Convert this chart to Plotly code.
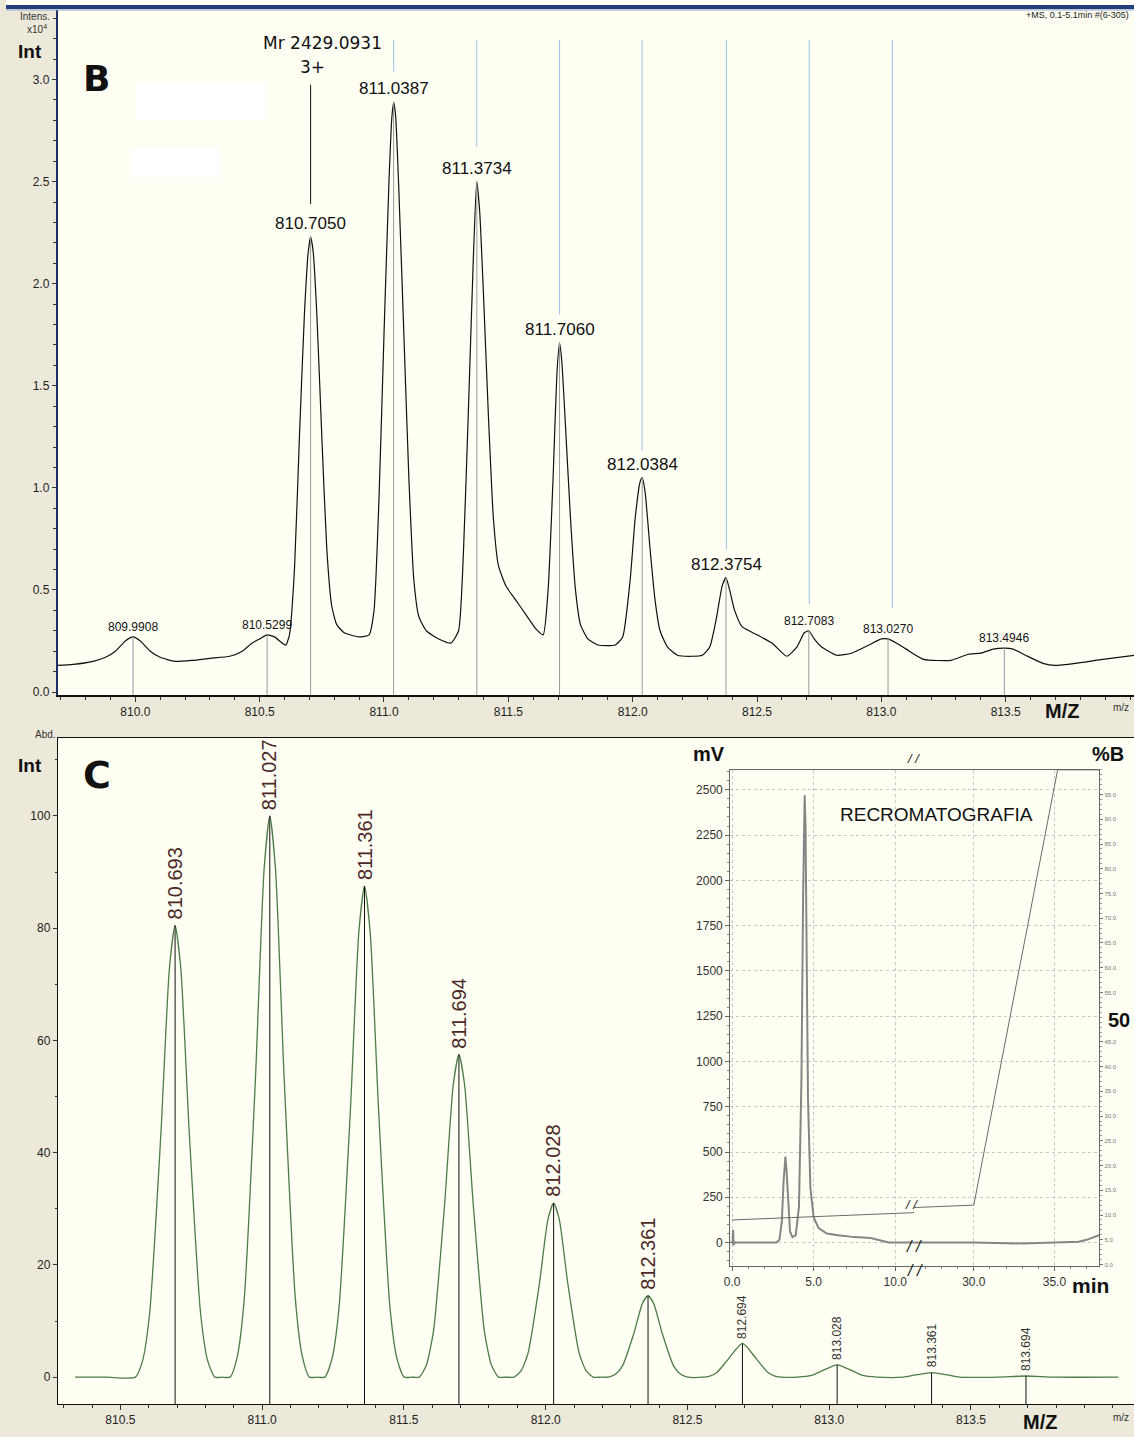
import plotly.graph_objects as go

W, H = 1134, 1437


def px(x):
    return x / W


def py(y):
    return 1 - y / H


# ---------------- Panel B data (ESI-MS spectrum, x10^4) ----------------
B_MZ = [809.68, 809.75, 809.83, 809.88, 809.92, 809.96, 809.99, 810.02, 810.06, 810.10,
        810.16, 810.23, 810.30, 810.38, 810.43, 810.47, 810.50, 810.53, 810.56, 810.59,
        810.605, 810.62, 810.64, 810.66, 810.68, 810.695, 810.705, 810.715, 810.73, 810.75,
        810.77, 810.79, 810.81, 810.84, 810.90, 810.94, 810.96, 810.98, 811.00, 811.02,
        811.032, 811.039, 811.047, 811.06, 811.08, 811.10, 811.12, 811.14, 811.17, 811.22,
        811.27, 811.30, 811.32, 811.34, 811.36, 811.373, 811.385, 811.40, 811.42, 811.44,
        811.46, 811.49, 811.53, 811.57, 811.61, 811.64, 811.66, 811.68, 811.695, 811.706,
        811.715, 811.73, 811.75, 811.77, 811.79, 811.82, 811.86, 811.93, 811.96, 811.99,
        812.01, 812.03, 812.038, 812.05, 812.07, 812.09, 812.11, 812.14, 812.18, 812.24,
        812.28, 812.31, 812.335, 812.36, 812.375, 812.39, 812.41, 812.44, 812.50, 812.56,
        812.62, 812.66, 812.69, 812.708, 812.73, 812.76, 812.82, 812.88, 812.95, 813.00,
        813.027, 813.06, 813.10, 813.17, 813.28, 813.35, 813.40, 813.45, 813.495, 813.53,
        813.58, 813.65, 813.70, 813.78, 813.89, 814.02]
B_INT = [0.13, 0.135, 0.15, 0.17, 0.20, 0.25, 0.27, 0.25, 0.20, 0.17,
         0.15, 0.155, 0.165, 0.175, 0.20, 0.24, 0.26, 0.28, 0.27, 0.24,
         0.23, 0.28, 0.60, 1.25, 1.85, 2.15, 2.23, 2.16, 1.85, 1.25,
         0.70, 0.42, 0.33, 0.29, 0.27, 0.28, 0.40, 0.95, 1.75, 2.50,
         2.82, 2.89, 2.82, 2.45, 1.75, 1.05, 0.55, 0.37, 0.30, 0.26,
         0.24, 0.30, 0.70, 1.40, 2.15, 2.50, 2.35, 1.95, 1.35, 0.85,
         0.62, 0.52, 0.45, 0.38, 0.31, 0.28, 0.50, 1.05, 1.55, 1.71,
         1.62, 1.30, 0.85, 0.50, 0.33, 0.26, 0.23, 0.23, 0.27, 0.55,
         0.85, 1.03, 1.05, 0.98, 0.70, 0.45, 0.30, 0.22, 0.18, 0.175,
         0.18, 0.22, 0.35, 0.52, 0.56, 0.50, 0.40, 0.32, 0.28, 0.24,
         0.175, 0.22, 0.29, 0.30, 0.26, 0.22, 0.18, 0.19, 0.23, 0.26,
         0.26, 0.24, 0.21, 0.16, 0.155, 0.185, 0.19, 0.21, 0.215, 0.21,
         0.18, 0.14, 0.13, 0.14, 0.16, 0.18]

B_PEAK_MZ = [809.9908, 810.5299, 810.7050, 811.0387, 811.3734, 811.7060,
             812.0384, 812.3754, 812.7083, 813.0270, 813.4946]
B_PEAK_INT = [0.27, 0.28, 2.23, 2.89, 2.50, 1.71, 1.05, 0.56, 0.30, 0.26, 0.215]
B_PEAK_LABELS = ["809.9908", "810.5299", "810.7050", "811.0387", "811.3734", "811.7060",
                 "812.0384", "812.3754", "812.7083", "813.0270", "813.4946"]

# theoretical isotope markers (light blue), top and bottom ends
B_ISO_MZ = [811.039, 811.373, 811.706, 812.038, 812.377, 812.710, 813.044]
B_ISO_TOP = [3.195, 3.195, 3.195, 3.195, 3.195, 3.195, 3.195]
B_ISO_BOTTOM = [3.04, 2.67, 1.85, 1.18, 0.70, 0.43, 0.41]

B_MR_MZ = 810.705
B_MR_Y = [2.39, 2.975]

B_XTICKS = [810.0, 810.5, 811.0, 811.5, 812.0, 812.5, 813.0, 813.5]
B_XRANGE = [809.688, 814.016]
B_YRANGE = [-0.015, 3.341]

# ---------------- Panel C data (simulated isotope pattern, %) ----------------
C_MZ = [810.34, 810.45, 810.553, 810.578, 810.603, 810.643, 810.673, 810.693, 810.713, 810.743, 810.783, 810.808, 810.833,
        810.86,
        810.887, 810.912, 810.937, 810.977, 811.007, 811.027, 811.047, 811.077, 811.117, 811.142, 811.167,
        811.194,
        811.221, 811.246, 811.271, 811.311, 811.341, 811.361, 811.381, 811.411, 811.451, 811.476, 811.501,
        811.528,
        811.554, 811.579, 811.604, 811.644, 811.674, 811.694, 811.714, 811.744, 811.784, 811.809, 811.834,
        811.861,
        811.888, 811.913, 811.938, 811.978, 812.008, 812.028, 812.048, 812.078, 812.118, 812.143, 812.168,
        812.195,
        812.221, 812.246, 812.271, 812.311, 812.341, 812.361, 812.381, 812.411, 812.451, 812.476, 812.501,
        812.554, 812.579, 812.604, 812.644, 812.694, 812.744, 812.784, 812.809, 812.834,
        812.888, 812.938, 812.978, 813.028, 813.078, 813.118, 813.168,
        813.261, 813.311, 813.361, 813.411, 813.461,
        813.594, 813.694, 813.794, 814.02]
C_INT = [0, 0, 0, 2.9, 11.3, 43.5, 72.9, 80.5, 72.9, 43.5, 11.3, 2.9, 0,
         0,
         0, 3.6, 14.0, 54.0, 90.6, 100.0, 90.6, 54.0, 14.0, 3.6, 0,
         0,
         0, 3.2, 12.3, 47.3, 79.3, 87.5, 79.3, 47.3, 12.3, 3.2, 0,
         0,
         0, 2.1, 8.1, 31.1, 52.1, 57.5, 52.1, 31.1, 8.1, 2.1, 0,
         0,
         0, 1.1, 4.3, 16.7, 28.1, 31.0, 28.1, 16.7, 4.3, 1.1, 0,
         0,
         0, 0.5, 2.0, 7.8, 13.1, 14.5, 13.1, 7.8, 2.0, 0.5, 0,
         0, 0.2, 0.84, 3.2, 6.0, 3.2, 0.84, 0.2, 0,
         0, 0.3, 1.2, 2.2, 1.2, 0.3, 0,
         0, 0.45, 0.8, 0.45, 0,
         0, 0.2, 0, 0]

C_PEAK_MZ = [810.693, 811.027, 811.361, 811.694, 812.028, 812.361, 812.694, 813.028, 813.361, 813.694]
C_PEAK_INT = [80.5, 100.0, 87.5, 57.5, 31.0, 14.5, 6.0, 2.2, 0.8, 0.2]
C_PEAK_LABELS = ["810.693", "811.027", "811.361", "811.694", "812.028", "812.361",
                 "812.694", "813.028", "813.361", "813.694"]

C_XTICKS = [810.5, 811.0, 811.5, 812.0, 812.5, 813.0, 813.5]
C_XRANGE = [810.279, 814.075]
C_YRANGE = [-4.8, 113.9]

# ---------------- Inset: re-chromatography ----------------
CH_T_LEFT = [-0.12, 0.03, 0.06, 0.09, 0.15, 2.7, 2.9, 3.05, 3.15, 3.27, 3.35, 3.45, 3.55,
             3.7, 3.9, 4.1, 4.25, 4.35, 4.45, 4.5, 4.57, 4.65, 4.8, 5.0, 5.3, 5.8, 6.5,
             7.5, 8.5, 9.1, 9.6, 11.3]
CH_MV_LEFT = [0, 0, 70, -15, 0, 0, 15, 120, 330, 475, 380, 180, 60,
              30, 40, 200, 900, 1900, 2470, 2300, 1500, 800, 300, 140, 80, 50, 40,
              30, 25, 10, 0, 0]
CH_T_RIGHT = [26.2, 30.0, 33.0, 35.3, 36.5, 37.0, 37.4, 37.9]
CH_MV_RIGHT = [0, 0, -5, 0, 5, 15, 30, 45]

GR_T_LEFT = [0.0, 11.3]
GR_B_LEFT = [9.0, 10.5]
GR_T_RIGHT = [26.2, 30.0, 35.2, 37.9]
GR_B_RIGHT = [11.5, 12.0, 100.0, 100.0]

MV_TICKS = [0, 250, 500, 750, 1000, 1250, 1500, 1750, 2000, 2250, 2500]
T_TICKS_LEFT = [0, 5, 10]
T_TICKTEXT_LEFT = ["0.0", "5.0", "10.0"]
T_TICKS_RIGHT = [30, 35]
T_TICKTEXT_RIGHT = ["30.0", "35.0"]
PB_TICKS = [0, 5, 10, 15, 20, 25, 30, 35, 40, 45, 55, 60, 65, 70, 75, 80, 85, 90, 95]
PB_TICKTEXT = ["0.0", "5.0", "10.0", "15.0", "20.0", "25.0", "30.0", "35.0", "40.0", "45.0",
               "55.0", "60.0", "65.0", "70.0", "75.0", "80.0", "85.0", "90.0", "95.0"]

MV_RANGE = [-132, 2610]
PB_RANGE = [-0.4, 100]
T_RANGE_LEFT = [-0.12, 11.16]
T_RANGE_RIGHT = [26.30, 37.78]

# ---------------- styles ----------------
FONT = "Liberation Sans, Arial, sans-serif"
SANS2 = "DejaVu Sans, Liberation Sans, sans-serif"
BEIGE = "#ECE9DA"
CREAM = "#FFFFF4"
NAVY = "#1B2F66"

fig = go.Figure()

# ---- Panel B traces
fig.add_trace(go.Scatter(x=B_MZ, y=B_INT, mode="lines",
                         line=dict(color="#111111", width=1.2, shape="spline", smoothing=0.5),
                         xaxis="x", yaxis="y", hoverinfo="skip"))
sx, sy = [], []
for m, v in zip(B_PEAK_MZ, B_PEAK_INT):
    sx += [m, m, None]
    sy += [B_YRANGE[0], v, None]
fig.add_trace(go.Scatter(x=sx, y=sy, mode="lines", line=dict(color="#9a9a9a", width=1),
                         xaxis="x", yaxis="y", hoverinfo="skip"))
bx, by = [], []
for m, t, b in zip(B_ISO_MZ, B_ISO_TOP, B_ISO_BOTTOM):
    bx += [m, m, None]
    by += [t, b, None]
fig.add_trace(go.Scatter(x=bx, y=by, mode="lines", line=dict(color="#9CC2E8", width=1),
                         xaxis="x", yaxis="y", hoverinfo="skip"))
fig.add_trace(go.Scatter(x=[B_MR_MZ, B_MR_MZ], y=B_MR_Y, mode="lines",
                         line=dict(color="#111111", width=1), xaxis="x", yaxis="y", hoverinfo="skip"))

# ---- Panel C traces
fig.add_trace(go.Scatter(x=C_MZ, y=C_INT, mode="lines",
                         line=dict(color="#4C7D45", width=1.3, shape="spline", smoothing=0.6),
                         xaxis="x2", yaxis="y2", hoverinfo="skip"))
cx, cy = [], []
for m, v in zip(C_PEAK_MZ, C_PEAK_INT):
    cx += [m, m, None]
    cy += [C_YRANGE[0], v, None]
fig.add_trace(go.Scatter(x=cx, y=cy, mode="lines", line=dict(color="#111111", width=1),
                         xaxis="x2", yaxis="y2", hoverinfo="skip"))

# ---- Inset traces
fig.add_trace(go.Scatter(x=CH_T_LEFT, y=CH_MV_LEFT, mode="lines", line=dict(color="#858585", width=2),
                         xaxis="x3", yaxis="y3", hoverinfo="skip"))
fig.add_trace(go.Scatter(x=CH_T_RIGHT, y=CH_MV_RIGHT, mode="lines", line=dict(color="#858585", width=2),
                         xaxis="x4", yaxis="y4", hoverinfo="skip"))
fig.add_trace(go.Scatter(x=GR_T_LEFT, y=GR_B_LEFT, mode="lines", line=dict(color="#6a6a6a", width=1),
                         xaxis="x3", yaxis="y5", hoverinfo="skip"))
fig.add_trace(go.Scatter(x=GR_T_RIGHT, y=GR_B_RIGHT, mode="lines", line=dict(color="#6a6a6a", width=1),
                         xaxis="x4", yaxis="y6", hoverinfo="skip"))

annotations = []


def ann(x, y, text, size=12, color="#111111", family=FONT, xanchor="center", yanchor="middle",
        xref="paper", yref="paper", **kw):
    d = dict(x=x, y=y, text=text, showarrow=False, xref=xref, yref=yref, xanchor=xanchor,
             yanchor=yanchor, font=dict(size=size, color=color, family=family))
    d.update(kw)
    annotations.append(d)


# B peak labels
for m, v, lab in zip(B_PEAK_MZ, B_PEAK_INT, B_PEAK_LABELS):
    big = v > 0.5
    ann(m, v, lab, size=17 if big else 12, xref="x", yref="y",
        yanchor="bottom", yshift=2 if big else 1, color="#111111")

# C peak labels
for m, v, lab in zip(C_PEAK_MZ, C_PEAK_INT, C_PEAK_LABELS):
    big = v > 10
    ann(m, v, lab, size=20 if big else 12, xref="x2", yref="y2", yanchor="bottom",
        yshift=4 if big else 3, textangle=-90, color="#4B2A28" if big else "#333333")

# Panel B texts
ann(px(318), py(43), "Mr 2429.0931", size=17, family=SANS2)
ann(px(308), py(67), "3+", size=17, family=SANS2)
ann(px(91), py(79), "<b>B</b>", size=36, family=SANS2)
ann(px(24), py(52), "<b>Int</b>", size=19)
ann(px(29), py(17), "Intens.", size=10, color="#333333")
ann(px(31), py(29), "x10<sup>4</sup>", size=10, color="#333333")
ann(px(1131), py(15), "+MS, 0.1-5.1min #(6-305)", size=9, xanchor="right", color="#222222")
ann(px(1062), py(713), "<b>M/Z</b>", size=20)
ann(px(1131), py(709), "m/z", size=10, color="#333333", xanchor="right")

# Panel C texts
ann(px(91), py(777), "<b>C</b>", size=38, family=SANS2)
ann(px(24), py(768), "<b>Int</b>", size=19)
ann(px(40), py(737), "Abd.", size=10, color="#333333")
ann(px(1040), py(1426), "<b>M/Z</b>", size=20)
ann(px(1131), py(1421), "m/z", size=10, color="#333333", xanchor="right")

# Inset texts
ann(px(935), py(817), "RECROMATOGRAFIA", size=19)
ann(px(707), py(756), "<b>mV</b>", size=20)
ann(px(1108), py(756), "<b>%B</b>", size=20)
ann(px(1090), py(1289), "<b>min</b>", size=21)
ann(px(1119), py(1023), "<b>50</b>", size=20)
ann(px(912), py(761), "<i>/ /</i>", size=13, color="#222222")
ann(px(910), py(1208), "<i>/ /</i>", size=13, color="#222222")
ann(px(913), py(1250), "<i>/ /</i>", size=16, color="#222222")
ann(px(914), py(1274), "<i>/ /</i>", size=16, color="#222222")

shapes = [
    # top strip of window + blue title border
    dict(type="rect", xref="paper", yref="paper", x0=0, x1=1, y0=py(5), y1=1,
         fillcolor="#FFFFFF", line=dict(width=0), layer="above"),
    dict(type="rect", xref="paper", yref="paper", x0=0, x1=1, y0=py(9), y1=py(5),
         fillcolor="#233E7A", line=dict(width=0), layer="above"),
    dict(type="line", xref="paper", yref="paper", x0=0, x1=1, y0=py(10), y1=py(10),
         line=dict(color="#8EA6D0", width=1), layer="above"),
    # white masking blocks in panel B
    dict(type="rect", xref="paper", yref="paper", x0=px(130), x1=px(262), y0=py(120), y1=py(82),
         fillcolor="#FFFFFF", line=dict(width=0), layer="below"),
    dict(type="rect", xref="paper", yref="paper", x0=px(125), x1=px(215), y0=py(178), y1=py(148),
         fillcolor="#FFFFFF", line=dict(width=0), layer="below"),
]

tickfont = dict(size=12, color="#222222", family=FONT)
inset_font = dict(size=12, color="#333333", family=FONT)

fig.update_layout(
    width=W, height=H, autosize=False,
    margin=dict(l=0, r=0, t=0, b=0, pad=0),
    paper_bgcolor=BEIGE, plot_bgcolor=CREAM,
    showlegend=False,
    annotations=annotations,
    shapes=shapes,
    xaxis=dict(domain=[px(52), 1], range=B_XRANGE, anchor="y", showgrid=False, zeroline=False,
               showline=True, linecolor="#111111", linewidth=2, ticks="outside", ticklen=5,
               tickcolor="#333333", tickmode="array", tickvals=B_XTICKS, tickformat=".1f", tickfont=tickfont,
               minor=dict(ticks="outside", ticklen=3, tickmode="linear", tick0=810.0, dtick=0.1,
                          tickcolor="#333333")),
    yaxis=dict(domain=[py(697), py(10)], range=B_YRANGE, anchor="x", showgrid=False, zeroline=False,
               showline=True, linecolor=NAVY, linewidth=2, ticks="outside", ticklen=4,
               tickcolor="#333333", tick0=0, dtick=0.5, tickformat=".1f", tickfont=tickfont,
               minor=dict(ticks="outside", ticklen=3, tick0=0, dtick=0.1, tickcolor="#333333")),
    xaxis2=dict(domain=[px(52), 1], range=C_XRANGE, anchor="y2", showgrid=False, zeroline=False,
                showline=True, mirror=True, linecolor="#111111", linewidth=1, ticks="outside", ticklen=5,
                tickcolor="#333333", tickmode="array", tickvals=C_XTICKS, tickformat=".1f", tickfont=tickfont,
                minor=dict(ticks="outside", ticklen=3, tickmode="linear", tick0=810.5, dtick=0.1,
                           tickcolor="#333333")),
    yaxis2=dict(domain=[py(1408), py(740)], range=C_YRANGE, anchor="x2", showgrid=False, zeroline=False,
                showline=True, linecolor="#111111", linewidth=1, ticks="outside", ticklen=4,
                tickcolor="#333333", tick0=0, dtick=20, tickfont=tickfont,
                minor=dict(ticks="outside", ticklen=2, tick0=0, dtick=10, tickcolor="#333333")),
    xaxis3=dict(domain=[px(728), px(913)], range=T_RANGE_LEFT, anchor="y3", zeroline=False,
                showline=True, mirror=True, linecolor="#666666", linewidth=1, ticks="outside", ticklen=4,
                tickcolor="#666666", tickmode="array", tickvals=T_TICKS_LEFT, ticktext=T_TICKTEXT_LEFT,
                tickfont=inset_font, showgrid=True, gridcolor="#C8C8C8", griddash="dot", gridwidth=1,
                minor=dict(ticks="outside", ticklen=2, tickmode="linear", tick0=0, dtick=1,
                           tickcolor="#888888")),
    xaxis4=dict(domain=[px(913), px(1099)], range=T_RANGE_RIGHT, anchor="y4", zeroline=False,
                showline=True, mirror=True, linecolor="#666666", linewidth=1, ticks="outside", ticklen=4,
                tickcolor="#666666", tickmode="array", tickvals=T_TICKS_RIGHT, ticktext=T_TICKTEXT_RIGHT,
                tickfont=inset_font, showgrid=True, gridcolor="#C8C8C8", griddash="dot", gridwidth=1,
                minor=dict(ticks="outside", ticklen=2, tickmode="linear", tick0=0, dtick=1,
                           tickcolor="#888888")),
    yaxis3=dict(domain=[py(1270), py(772)], range=MV_RANGE, anchor="x3", zeroline=False,
                showline=True, linecolor="#666666", linewidth=1, ticks="outside", ticklen=4,
                tickcolor="#666666", tickmode="array", tickvals=MV_TICKS, tickfont=inset_font,
                showgrid=True, gridcolor="#C8C8C8", griddash="dot", gridwidth=1,
                minor=dict(ticks="outside", ticklen=2, tickmode="linear", tick0=0, dtick=50,
                           tickcolor="#888888")),
    yaxis4=dict(domain=[py(1270), py(772)], range=MV_RANGE, anchor="x4", zeroline=False,
                showline=False, ticks="", showticklabels=False, tickmode="array", tickvals=MV_TICKS,
                showgrid=True, gridcolor="#C8C8C8", griddash="dot", gridwidth=1),
    yaxis5=dict(domain=[py(1270), py(772)], range=PB_RANGE, anchor="x3", overlaying="y3",
                visible=False, showgrid=False, zeroline=False),
    yaxis6=dict(domain=[py(1270), py(772)], range=PB_RANGE, anchor="x4", overlaying="y4", side="right",
                showgrid=False, zeroline=False, showline=True, linecolor="#666666", linewidth=1,
                ticks="outside", ticklen=3, tickcolor="#777777", tickmode="array", tickvals=PB_TICKS,
                ticktext=PB_TICKTEXT, tickfont=dict(size=6, color="#777777", family=FONT),
                minor=dict(ticks="outside", ticklen=2, tickmode="linear", tick0=0, dtick=1,
                           tickcolor="#999999")),
)

fig.write_html("out.html", config={"displayModeBar": False},
               post_script="document.body.style.margin='0';document.body.style.padding='0';"
                           "document.documentElement.style.overflow='hidden';")
